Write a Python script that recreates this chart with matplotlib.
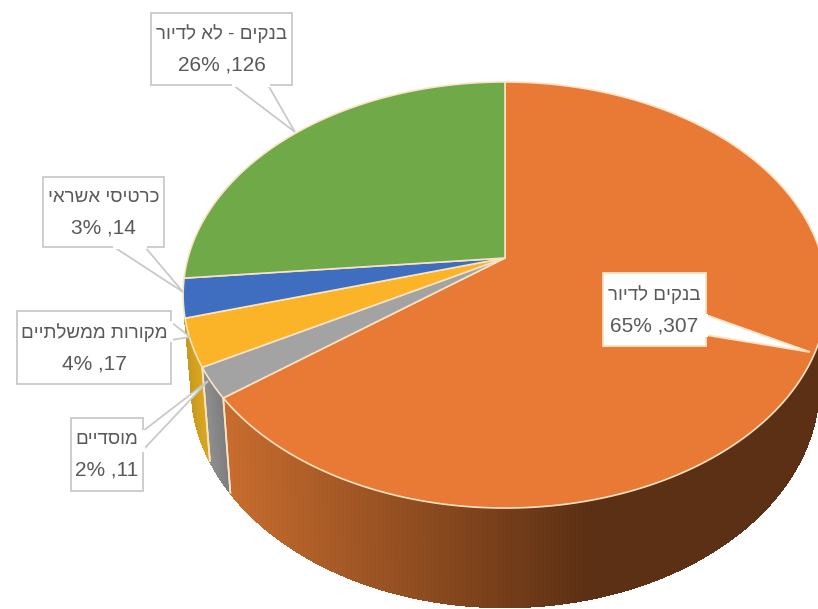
import matplotlib
matplotlib.use("Agg")
import matplotlib.pyplot as plt
from matplotlib.collections import PolyCollection
from matplotlib.colors import LinearSegmentedColormap
import numpy as np

# slices clockwise from 12 o'clock
names = ['בנקים לדיור', 'מוסדיים', 'מקורות ממשלתיים', 'כרטיסי אשראי', 'בנקים - לא לדיור']
values = [307, 11, 17, 14, 126]
percents = [65, 2, 4, 3, 26]
top_colors = ['#e97a35', '#a3a3a3', '#fbb427', '#3f6dbf', '#6fa948']
side_left = ['#c76c2e', '#8f8f8f', '#c99a20', '#2f5597', '#55803a']
side_right = ['#5c3014', '#7d7d7d', '#dba71f', '#2f5597', '#55803a']
rim_color = '#fbe3c4'

# label boxes: x0, y0, x1, y1 and pointer (base a, base b, tip), in pixels
boxes = [(603, 273, 706, 346), (71, 418, 143, 491), (17, 311, 171, 384),
         (43, 177, 164, 247), (151, 13, 292, 85)]
pointers = [((706, 315), (706, 335), (810, 352)),
            ((143, 431), (143, 450), (208, 381)),
            ((171, 322), (171, 340), (190, 337)),
            ((114, 247), (145, 247), (183, 292)),
            ((233, 85), (268, 85), (295, 132))]

K = 0.1737


def rim_top(theta):
    s, c = np.sin(theta), np.cos(theta)
    d = 1 + K * c
    return 505 + 317 * s / d, 258 - 206.6 * c / d


def rim_bottom(theta):
    s, c = np.sin(theta), np.cos(theta)
    d = 1 + K * c
    return 505 + 309 * s / d, 347 - 215 * c / d


fig = plt.figure(figsize=(8.18, 6.09), dpi=100)
ax = fig.add_axes([0, 0, 1, 1])
ax.set_xlim(0, 818)
ax.set_ylim(609, 0)
ax.axis('off')

edges = np.concatenate([[0], np.cumsum(values)]) / sum(values) * 2 * np.pi
front_from = np.radians(98)
front_to = edges[3]

# side wall
for i in range(len(values)):
    a = max(edges[i], front_from)
    b = min(edges[i + 1], front_to)
    if b <= a:
        continue
    ts = np.linspace(a, b, 700 if i == 0 else 60)
    xt, yt = rim_top(ts)
    xb, yb = rim_bottom(ts)
    quads = [[(xt[j], yt[j]), (xt[j + 1], yt[j + 1]), (xb[j + 1], yb[j + 1]), (xb[j], yb[j])]
             for j in range(len(ts) - 1)]
    cmap = LinearSegmentedColormap.from_list('side', [side_left[i], side_right[i]])
    if i == 0:
        pos = np.clip((xt[:-1] - 225) / (590 - 225), 0, 1)
    else:
        pos = np.linspace(0, 1, len(quads))[::-1]
    cols = cmap(pos)
    ax.add_collection(PolyCollection(quads, facecolors=cols, edgecolors=cols, linewidths=0.8,
                                     antialiaseds=False))
    # separators on the side
    for t in (a, b):
        if np.radians(200) < t < np.radians(245):
            x0, y0 = rim_top(t)
            x1, y1 = rim_bottom(t)
            ax.plot([x0, x1], [y0, y1], color=rim_color, lw=1.2)

# top face
for i in range(len(values)):
    ts = np.linspace(edges[i], edges[i + 1], 200)
    x, y = rim_top(ts)
    ax.fill(np.r_[505, x], np.r_[258, y], facecolor=top_colors[i],
            edgecolor=rim_color, lw=1.2, joinstyle='round')

# labels
fonts = ['Liberation Sans', 'DejaVu Sans']
for i in range(len(values)):
    x0, y0, x1, y1 = boxes[i]
    pa, pb, tip = pointers[i]
    edge = '#fbe3c4' if i == 0 else '#c9c9c9'
    ax.fill([x0, x1, x1, x0], [y0, y0, y1, y1], facecolor='white', edgecolor=edge, lw=1.3, zorder=5)
    ax.fill([pa[0], tip[0], pb[0]], [pa[1], tip[1], pb[1]], facecolor='white', edgecolor=edge, lw=1.3, zorder=5)
    # cover the base of the pointer inside the box
    ax.plot([pa[0], pb[0]], [pa[1], pb[1]], color='white', lw=2.2, zorder=6)
    cx = (x0 + x1) / 2
    cy = (y0 + y1) / 2
    label = names[i][::-1]  # matplotlib has no bidi, so visual order
    ax.text(cx, cy - 15, label, ha='center', va='center', fontsize=13.5, color='#595959',
            family=fonts, zorder=7)
    ax.text(cx, cy + 16, f'{percents[i]}% ,{values[i]}', ha='center', va='center', fontsize=15,
            color='#595959', family=fonts, zorder=7)

fig.savefig('out.png', dpi=100)
